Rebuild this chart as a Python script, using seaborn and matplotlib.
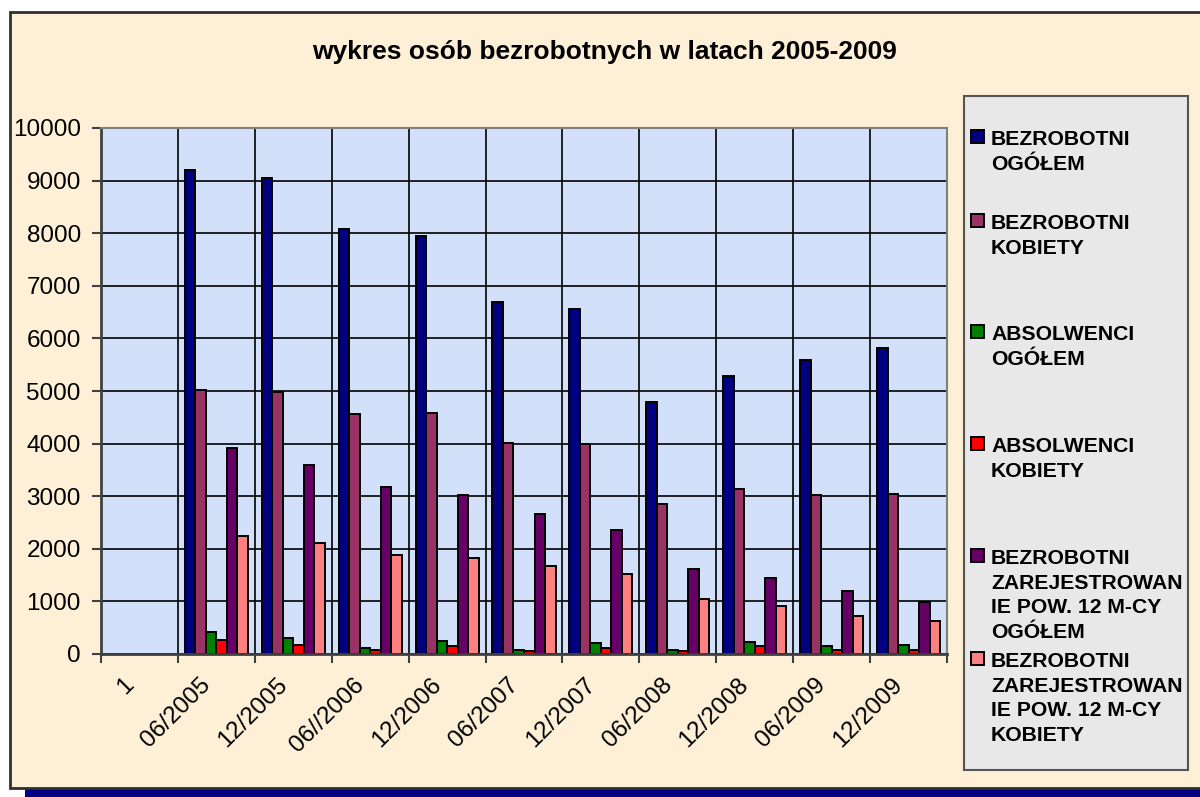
import numpy as np
import pandas as pd
import seaborn as sns
import matplotlib.pyplot as plt
from matplotlib.patches import Rectangle
from matplotlib.transforms import ScaledTranslation

plt.rcParams['font.family'] = ['Liberation Sans', 'DejaVu Sans']

# dane
okresy = ["1", "06/2005", "12/2005", "06//2006", "12/2006", "06/2007",
          "12/2007", "06/2008", "12/2008", "06/2009", "12/2009"]

bezrobotni_ogolem = [np.nan, 9200, 9050, 8080, 7950, 6700, 6560, 4790, 5280, 5590, 5820]
bezrobotni_kobiety = [np.nan, 5020, 4980, 4560, 4590, 4020, 3990, 2860, 3140, 3020, 3050]
absolwenci_ogolem = [np.nan, 410, 310, 115, 240, 85, 210, 85, 220, 145, 180]
absolwenci_kobiety = [np.nan, 275, 180, 80, 145, 50, 115, 50, 145, 85, 85]
dlugotrwale_ogolem = [np.nan, 3920, 3600, 3180, 3020, 2670, 2350, 1610, 1440, 1190, 985]
dlugotrwale_kobiety = [np.nan, 2240, 2115, 1885, 1830, 1670, 1530, 1050, 920, 730, 635]

serie = ["BEZROBOTNI OGÓŁEM", "BEZROBOTNI KOBIETY", "ABSOLWENCI OGÓŁEM",
         "ABSOLWENCI KOBIETY", "BEZROBOTNI ZAREJESTROWANIE POW. 12 M-CY OGÓŁEM",
         "BEZROBOTNI ZAREJESTROWANIE POW. 12 M-CY KOBIETY"]
etykiety_legendy = ["BEZROBOTNI\nOGÓŁEM", "BEZROBOTNI\nKOBIETY", "ABSOLWENCI\nOGÓŁEM",
                    "ABSOLWENCI\nKOBIETY",
                    "BEZROBOTNI\nZAREJESTROWAN\nIE POW. 12 M-CY\nOGÓŁEM",
                    "BEZROBOTNI\nZAREJESTROWAN\nIE POW. 12 M-CY\nKOBIETY"]
kolory = ["#000080", "#993366", "#008000", "#FF0000", "#660066", "#FF8080"]

wartosci = [bezrobotni_ogolem, bezrobotni_kobiety, absolwenci_ogolem,
            absolwenci_kobiety, dlugotrwale_ogolem, dlugotrwale_kobiety]

# dane w formacie długim
wiersze = []
for nazwa, seria in zip(serie, wartosci):
    for okres, v in zip(okresy, seria):
        wiersze.append({'okres': okres, 'seria': nazwa, 'liczba': v})
df = pd.DataFrame(wiersze).dropna()

W, H = 1200, 797
fig = plt.figure(figsize=(12, 7.97), dpi=100)
fig.patch.set_facecolor('white')

# tło wykresu w stylu Excela (cień + ramka)
fig.add_artist(Rectangle((25 / W, 0), 1.0, 12 / H, transform=fig.transFigure,
                         facecolor='#000080', edgecolor='none', zorder=-20))
fig.add_artist(Rectangle((10 / W, 1 - 788 / H), 1.0, (788 - 12) / H, transform=fig.transFigure,
                         facecolor='#FDF0D6', edgecolor='#303030', linewidth=2, zorder=-10))
fig.add_artist(Rectangle((964 / W, 1 - 770 / H), (1188 - 964) / W, (770 - 96) / H,
                         transform=fig.transFigure, facecolor='#E8E8E8',
                         edgecolor='#555555', linewidth=1.5, zorder=-5))

ax = fig.add_axes([101 / W, 1 - 654 / H, (947 - 101) / W, (654 - 128) / H])
ax.set_facecolor('#D3E0FA')

sns.barplot(data=df, x='okres', y='liczba', hue='seria', order=okresy, hue_order=serie,
            palette=kolory, saturation=1, width=0.82, gap=0, errorbar=None,
            edgecolor='black', linewidth=1.4, ax=ax)

handles, _ = ax.get_legend_handles_labels()
ax.get_legend().remove()

ax.set_xlim(-0.5, len(okresy) - 0.5)
ax.set_ylim(0, 10000)
ax.set_yticks(range(0, 10001, 1000))
ax.set_xlabel('')
ax.set_ylabel('')
ax.set_axisbelow(True)

ax.set_xticks(np.arange(-0.5, len(okresy), 1), minor=True)
ax.grid(which='major', axis='y', color='black', linewidth=1.2)
ax.grid(which='minor', axis='x', color='black', linewidth=1.2)
ax.grid(which='major', axis='x', visible=False)

ax.tick_params(axis='y', which='major', labelsize=17.5, length=6.5, width=1.5,
               color='#404040', pad=8)
ax.tick_params(axis='x', which='major', labelsize=17.5, length=0, pad=14)
ax.tick_params(axis='x', which='minor', length=6.5, width=1.5, color='#404040')
przesuniecie = ScaledTranslation(-0.17, 0, fig.dpi_scale_trans)
for lab in ax.get_xticklabels():
    lab.set_rotation(45)
    lab.set_ha('right')
    lab.set_rotation_mode('anchor')
    lab.set_transform(lab.get_transform() + przesuniecie)

for s in ['left', 'bottom']:
    ax.spines[s].set_color('#404040')
    ax.spines[s].set_linewidth(2)
for s in ['top', 'right']:
    ax.spines[s].set_color('#808080')
    ax.spines[s].set_linewidth(1.5)

fig.text(605 / W, 1 - 52 / H, "wykres osób bezrobotnych w latach 2005-2009",
         ha='center', va='center', fontsize=19, fontweight='bold')

# legenda jak w Excelu: wpisy rozłożone nierówno w pionie, więc każdy osobno
wpisy_y = [130, 214, 325, 437, 549, 652]
for h, lab, y in zip(handles, etykiety_legendy, wpisy_y):
    leg = fig.legend([h], [lab], loc='upper left',
                     bbox_to_anchor=(971 / W, 1 - y / H), frameon=False,
                     prop={'size': 15.2, 'weight': 'bold'}, handlelength=0.6,
                     handleheight=0.6, handletextpad=0.35, borderaxespad=0, borderpad=0)
    for t in leg.get_texts():
        t.set_linespacing(1.38)
    # kwadracik przy pierwszym wierszu opisu
    for kolumna in leg._legend_handle_box.get_children():
        for wpis in kolumna.get_children():
            wpis.align = 'top'

fig.savefig('out.png', dpi=100)
